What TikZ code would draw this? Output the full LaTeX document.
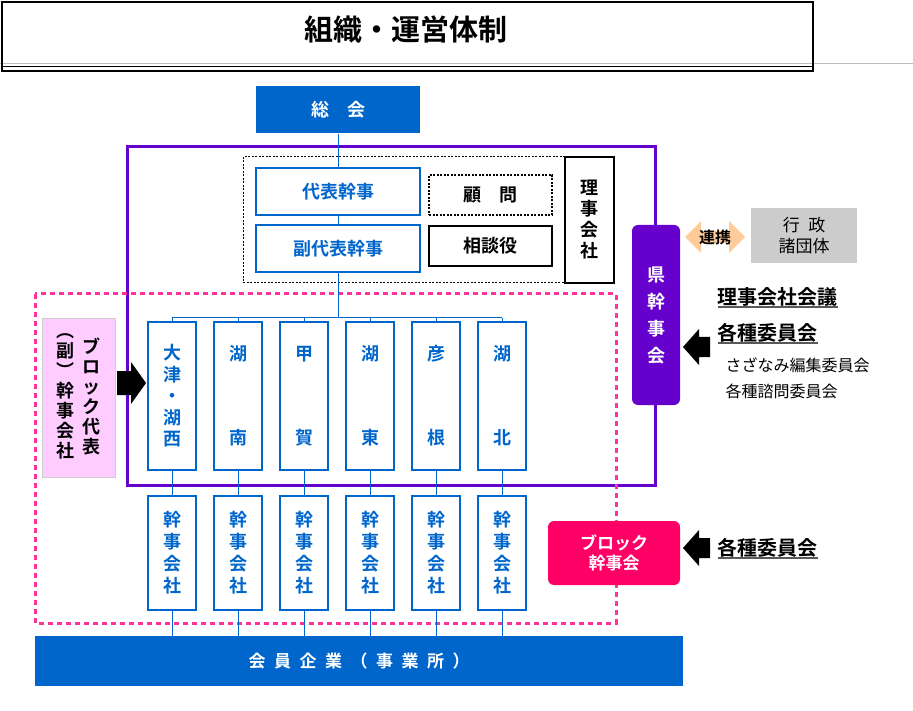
\documentclass[tikz,border=0pt]{standalone}
\usepackage{fontspec}
\setmainfont{Noto Sans CJK JP}[BoldFont={Noto Sans CJK JP Bold}]
\usetikzlibrary{arrows.meta,shapes.arrows}
\definecolor{ablue}{HTML}{0066CC}
\definecolor{apurple}{HTML}{6600CC}
\definecolor{apink}{HTML}{FF3399}
\definecolor{ared}{HTML}{FF0066}
\definecolor{lpink}{HTML}{FFCCFF}
\definecolor{aorange}{HTML}{FFCC99}
\begin{document}
\begin{tikzpicture}[x=1pt,y=-1pt,
  bluebox/.style={draw=ablue,line width=1.5pt,fill=white,font=\bfseries\fontsize{18}{20}\selectfont,text=ablue},
  ch/.style={font=\bfseries\fontsize{18}{20}\selectfont,text=ablue},
  conn/.style={draw=ablue,line width=1pt},
  lbl/.style={font=\bfseries\fontsize{20}{22}\selectfont,anchor=west},
  sm/.style={font=\fontsize{16}{18}\selectfont,anchor=west},
  ]
\useasboundingbox (0,0) rectangle (913,711);
% title
\draw[gray!50,line width=0.6pt] (0,63) -- (913,63);
\draw[line width=1.2pt] (2,2) rectangle (813,71);
\draw[line width=0.6pt] (2,66) -- (813,66);
\node (title) at (406,30) {\bfseries\fontsize{29}{31}\selectfont 組織・運営体制};
% purple frame
\draw[apurple,line width=3pt] (127,147) rectangle (655,485);
% pink dashed
\draw[apink,line width=3pt,dash pattern=on 5pt off 4pt] (35,294) rectangle (616,623);
% general
\node[fill=ablue,minimum width=164pt,minimum height=47pt,text=white,font=\bfseries\fontsize{18}{20}\selectfont] (soukai) at (338,110) {総\hspace{1em}会};
\draw[dash pattern=on 2pt off 1.5pt,line width=1pt] (565,157) -- (243,157) -- (243,283) -- (565,283);
\node[draw,line width=1.2pt,minimum width=49pt,minimum height=126pt,font=\bfseries\fontsize{18}{21}\selectfont,align=center] (riji) at (589.5,220) {理\\事\\会\\社};
\node[bluebox,minimum width=164pt,minimum height=47pt] (daihyo) at (338,191.5) {代表幹事};
\node[bluebox,minimum width=164pt,minimum height=47pt] (fuku) at (338,248.5) {副代表幹事};
\node[draw,dash pattern=on 2pt off 1.5pt,line width=1.2pt,minimum width=123pt,minimum height=40pt,font=\bfseries\fontsize{18}{20}\selectfont] (komon) at (490.5,195) {顧\hspace{1em}問};
\node[draw,line width=1.2pt,minimum width=123pt,minimum height=40pt,font=\bfseries\fontsize{18}{20}\selectfont] (soudan) at (490.5,246) {相談役};
\draw[conn] (soukai.south) -- (daihyo.north);
\draw[conn] (daihyo.south) -- (fuku.north);
% prefecture
\node[fill=apurple,rounded corners=6pt,minimum width=48pt,minimum height=180pt,text=white,font=\bfseries\fontsize{18}{27}\selectfont,align=center] (ken) at (656,315) {県\\幹\\事\\会};
\node[double arrow,fill=aorange,minimum height=60pt,minimum width=32pt,double arrow head extend=2pt,inner sep=1pt] (renkei) at (715,237) {};
\node[font=\bfseries\fontsize{16}{18}\selectfont] (renkeit) at (715,237) {連携};
\node[fill=gray!40,minimum width=106pt,minimum height=55pt,align=center,font=\fontsize{17}{21}\selectfont] (gyosei) at (804,236) {行\hspace{0.5em}政\\諸団体};
\node[lbl] (rjk) at (714,297) {理事会社会議};
\draw[line width=1.2pt,gray!70!black] (rjk.south west)++(4,-3) -- ++(120,0);
\node[lbl] (kakushu1) at (714,333) {各種委員会};
\draw[line width=1.2pt,gray!70!black] (kakushu1.south west)++(4,-3) -- ++(100,0);
\fill (683,347) -- (699,329) -- (699,337) -- (710,337) -- (710,357) -- (699,357) -- (699,365) -- cycle;
\node[sm] (sazanami) at (722,365) {さざなみ編集委員会};
\node[sm] (shimon) at (722,391) {各種諮問委員会};
% block rep
\node[fill=lpink,draw=gray!40,minimum width=73pt,minimum height=159pt] (brep) at (78.5,397.5) {};
\node[font=\bfseries\fontsize{18}{20}\selectfont,align=center] (brep1) at (91,396) {ブ\\ロ\\ッ\\ク\\代\\表};
\node[font=\bfseries\fontsize{18}{20}\selectfont,align=center] (brep2) at (65,396) {︵\\副\\︶\\幹\\事\\会\\社};
\fill (117,371) -- (131,371) -- (131,362) -- (146,383) -- (131,404) -- (131,395) -- (117,395) -- cycle;
% blocks
\draw[conn] (fuku.south) -- (338,318);
\draw[conn] (172,318) -- (502,318);
\foreach \x [count=\i] in {172,238,304,370,436,502}{
  \draw[conn] (\x,318) -- (\x,322);
  \node[draw=ablue,line width=1.2pt,fill=white,minimum width=48pt,minimum height=148pt] (u\i) at (\x,396) {};
  \node[draw=ablue,line width=1.2pt,fill=white,minimum width=48pt,minimum height=114pt,font=\bfseries\fontsize{18}{22}\selectfont,text=ablue,align=center] (l\i) at (\x,553) {幹\\事\\会\\社};
  \draw[conn] (u\i.south) -- (l\i.north);
  \draw[conn] (l\i.south) -- (\x,636);
}
\node[ch,align=center,font=\bfseries\fontsize{18}{21.5}\selectfont] (t1) at (172,396) {大\\津\\・\\湖\\西};
\foreach \x/\a/\b [count=\i from 2] in {238/湖/南,304/甲/賀,370/湖/東,436/彦/根,502/湖/北}{
  \node[ch] (ta\i) at (\x,354) {\a};
  \node[ch] (tb\i) at (\x,438) {\b};
}
% block kanjikai
\node[fill=ared,rounded corners=6pt,minimum width=132pt,minimum height=64pt,text=white,font=\bfseries\fontsize{17}{20}\selectfont,align=center] (bk) at (614,553) {ブロック\\幹事会};
\fill (683,548) -- (699,530) -- (699,538) -- (710,538) -- (710,558) -- (699,558) -- (699,566) -- cycle;
\node[lbl] (kakushu2) at (714,548) {各種委員会};
\draw[line width=1.2pt,gray!70!black] (kakushu2.south west)++(4,-3) -- ++(100,0);
% members
\node[fill=ablue,minimum width=648pt,minimum height=50pt,text=white,font=\bfseries\fontsize{17}{19}\selectfont] (kaiin) at (359,661) {会\hspace{0.5em}員\hspace{0.5em}企\hspace{0.5em}業\hspace{0.5em}（\hspace{0.5em}事\hspace{0.5em}業\hspace{0.5em}所\hspace{0.5em}）};
\end{tikzpicture}
\end{document}
